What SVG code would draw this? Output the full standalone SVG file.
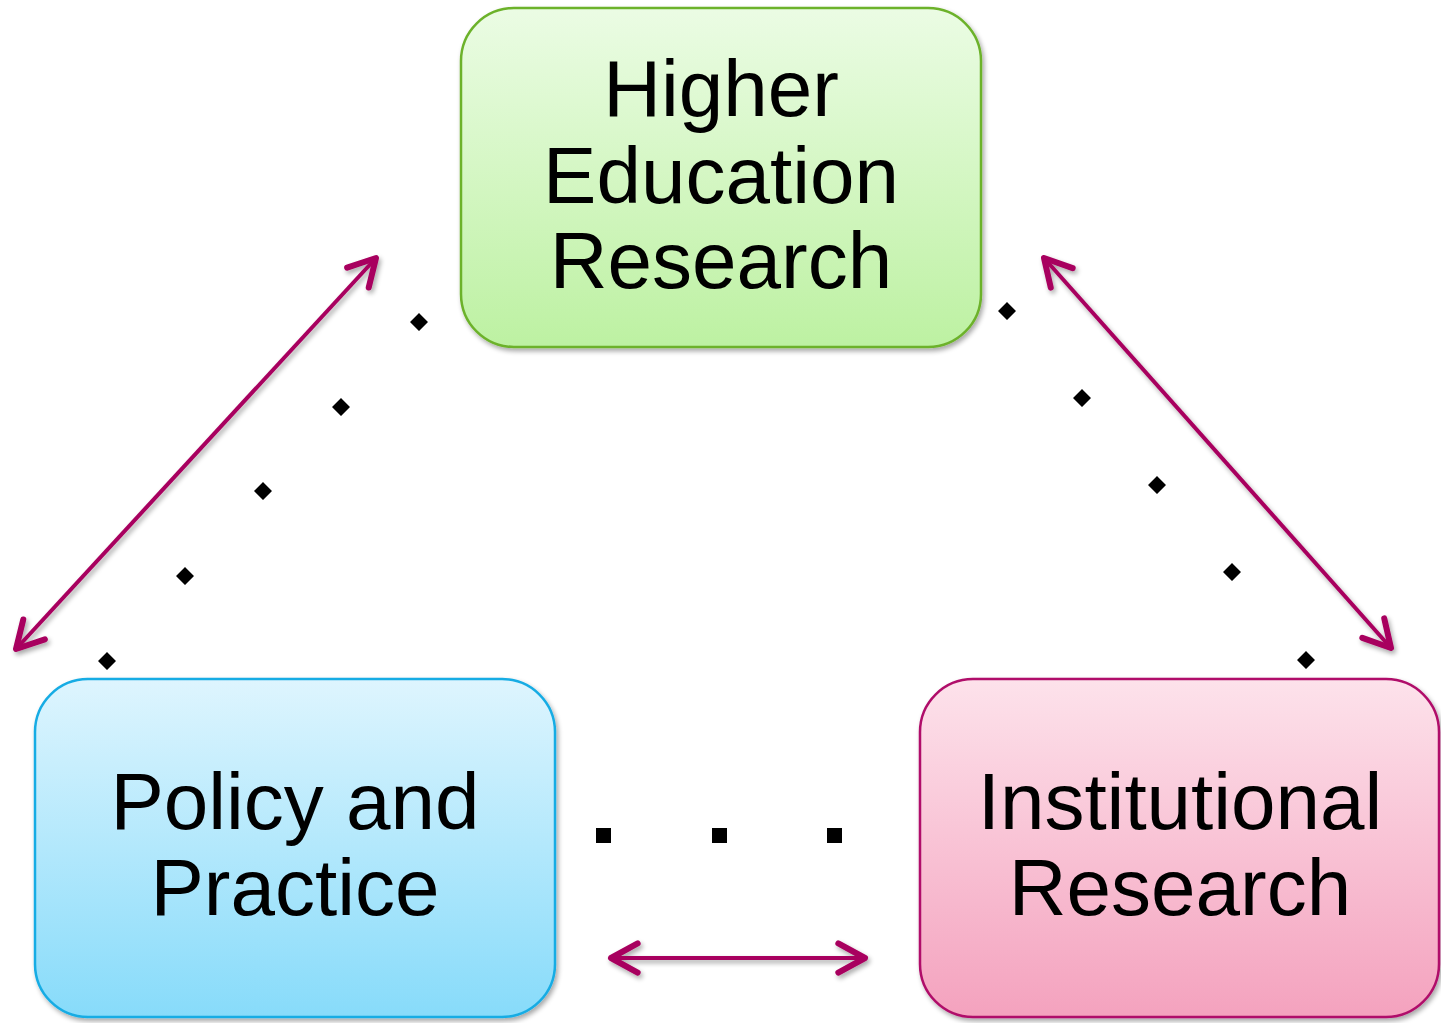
<svg xmlns="http://www.w3.org/2000/svg" width="1441" height="1023" viewBox="0 0 1441 1023">
<defs>
<linearGradient id="gGreen" x1="0" y1="0" x2="0" y2="1"><stop offset="0" stop-color="#EBFCE4"/><stop offset="1" stop-color="#BDF1A2"/></linearGradient>
<linearGradient id="gBlue" x1="0" y1="0" x2="0" y2="1"><stop offset="0" stop-color="#DEF5FE"/><stop offset="1" stop-color="#87DBFA"/></linearGradient>
<linearGradient id="gPink" x1="0" y1="0" x2="0" y2="1"><stop offset="0" stop-color="#FDE2EB"/><stop offset="1" stop-color="#F4A2BE"/></linearGradient>
<filter id="shadow" x="-10%" y="-10%" width="120%" height="125%">
<feGaussianBlur in="SourceAlpha" stdDeviation="2.5"/>
<feOffset dx="2" dy="3" result="b"/>
<feComponentTransfer><feFuncA type="linear" slope="0.35"/></feComponentTransfer>
<feMerge><feMergeNode/><feMergeNode in="SourceGraphic"/></feMerge>
</filter>
<marker id="head" markerUnits="userSpaceOnUse" markerWidth="40" markerHeight="40" refX="0" refY="0" viewBox="-24 -15 28 30" orient="auto-start-reverse" overflow="visible">
<path d="M-20,-11 L0,0 L-20,11" fill="none" stroke="#A8005F" stroke-width="4.5" stroke-linecap="round" stroke-linejoin="round"/>
</marker>
<style>
.box{stroke-width:2.5;filter:url(#shadow)}
.lbl{font-family:"Liberation Sans",Arial,sans-serif;font-size:80px;fill:#000;text-anchor:middle}
.arrow{fill:none;stroke:#A8005F;stroke-width:4;marker-start:url(#head);marker-end:url(#head)}
.dot{fill:#000}
</style>
</defs>
<g id="connectors" filter="url(#shadow)">
<line class="arrow" x1="16" y1="649" x2="376" y2="258"/>
<line class="arrow" x1="1044" y1="258" x2="1391" y2="648"/>
<line class="arrow" x1="611" y1="958" x2="865" y2="958"/>
</g>
<g id="dots-left">
<path class="dot" d="M419,313 l9,9 l-9,9 l-9,-9z M341,398 l9,9 l-9,9 l-9,-9z M263,482 l9,9 l-9,9 l-9,-9z M185,567 l9,9 l-9,9 l-9,-9z M107,652 l9,9 l-9,9 l-9,-9z"/>
</g>
<g id="dots-right">
<path class="dot" d="M1007,302 l9,9 l-9,9 l-9,-9z M1082,389 l9,9 l-9,9 l-9,-9z M1157,476 l9,9 l-9,9 l-9,-9z M1232,563 l9,9 l-9,9 l-9,-9z M1306,651 l9,9 l-9,9 l-9,-9z"/>
</g>
<g id="dots-bottom">
<rect class="dot" x="596" y="828" width="15" height="15"/>
<rect class="dot" x="712" y="828" width="15" height="15"/>
<rect class="dot" x="827" y="828" width="15" height="15"/>
</g>
<g id="higher-education-research">
<rect class="box" x="461" y="8" width="520" height="339" rx="53" fill="url(#gGreen)" stroke="#6CB22C"/>
<text class="lbl" x="721" y="116">Higher</text>
<text class="lbl" x="721" y="203">Education</text>
<text class="lbl" x="721" y="288">Research</text>
</g>
<g id="policy-and-practice">
<rect class="box" x="35" y="679" width="520" height="338" rx="53" fill="url(#gBlue)" stroke="#18ACE4"/>
<text class="lbl" x="295" y="829">Policy and</text>
<text class="lbl" x="295" y="915">Practice</text>
</g>
<g id="institutional-research">
<rect class="box" x="920" y="679" width="519" height="338" rx="53" fill="url(#gPink)" stroke="#B0106A"/>
<text class="lbl" x="1180" y="829">Institutional</text>
<text class="lbl" x="1180" y="915">Research</text>
</g>
</svg>
